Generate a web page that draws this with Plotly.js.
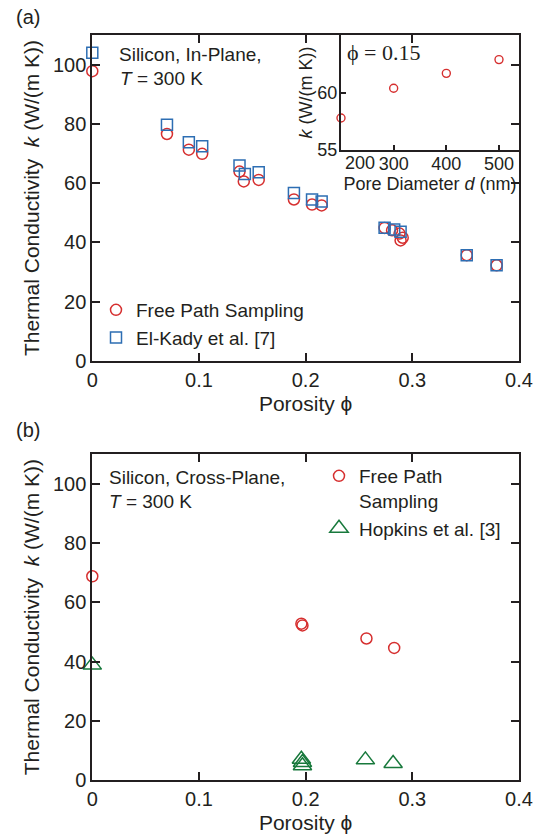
<!DOCTYPE html>
<html>
<head>
<meta charset="utf-8">
<script src="https://cdn.plot.ly/plotly-3.0.1.min.js"></script>
<style>html,body{margin:0;padding:0;background:#fff;}#chart{width:542px;height:834px;}</style>
</head>
<body>
<div id="chart"></div>
<script>
// ---- Panel (a): in-plane ----
const inPlanePhiFPS = [0, 0.07, 0.0905, 0.103, 0.138, 0.142, 0.156, 0.189, 0.206, 0.215, 0.274, 0.281, 0.288, 0.289, 0.291, 0.351, 0.379];
const inPlaneKFPS   = [97.8, 76.6, 71.3, 69.9, 63.9, 60.6, 61.1, 54.5, 52.8, 52.5, 44.9, 44.1, 43.0, 40.7, 41.6, 35.7, 32.3];
const inPlanePhiEK  = [0, 0.07, 0.0905, 0.103, 0.138, 0.143, 0.156, 0.189, 0.206, 0.215, 0.274, 0.283, 0.289, 0.351, 0.379];
const inPlaneKEK    = [104.0, 79.7, 73.8, 72.5, 66.0, 63.1, 63.7, 56.7, 54.5, 53.8, 45.0, 44.4, 43.6, 35.7, 32.3];
// ---- Inset: phi = 0.15 ----
const poreDiameter  = [200, 300, 400, 500];
const insetK        = [57.8, 60.4, 61.7, 62.9];
// ---- Panel (b): cross-plane ----
const crossPhiFPS   = [0, 0.196, 0.197, 0.257, 0.283];
const crossKFPS     = [68.8, 52.8, 52.2, 47.8, 44.6];
const crossPhiHop   = [0, 0.196, 0.197, 0.197, 0.256, 0.282];
const crossKHop     = [38.8, 7.0, 5.9, 4.8, 6.8, 5.6];
// ---- ticks ----
const mainXTicks     = [0, 0.1, 0.2, 0.3, 0.4];
const mainYTicks     = [0, 20, 40, 60, 80, 100];
const insetXTicks    = [200, 300, 400, 500];
const insetYTicks    = [55, 60];
// first inset tick label is drawn nudged right (as in the original) to clear the "55" label
const insetXTickText = insetXTicks.map((v, i) => i === 0 ? '' : String(v));

const RED = '#d62f2f', BLUE = '#2d6eb3', GREEN = '#18793c', INK = '#231f20';
const FONT = 'Liberation Sans, Arial, Helvetica, sans-serif';
const W = 542, H = 834;
const px = v => v / W, py = v => 1 - v / H;

const traces = [
  {x: inPlanePhiFPS, y: inPlaneKFPS, xaxis: 'x', yaxis: 'y', mode: 'markers', name: 'Free Path Sampling',
   marker: {symbol: 'circle-open', size: 11, color: RED, line: {width: 1.5, color: RED}}, cliponaxis: false, legend: 'legend'},
  {x: inPlanePhiEK, y: inPlaneKEK, xaxis: 'x', yaxis: 'y', mode: 'markers', name: 'El-Kady et al. [7]',
   marker: {symbol: 'square-open', size: 11, color: BLUE, line: {width: 1.5, color: BLUE}}, cliponaxis: false, legend: 'legend'},
  {x: poreDiameter, y: insetK, xaxis: 'x3', yaxis: 'y3', mode: 'markers', showlegend: false,
   marker: {symbol: 'circle-open', size: 8, color: RED, line: {width: 1.4, color: RED}}, cliponaxis: false},
  {x: crossPhiFPS, y: crossKFPS, xaxis: 'x2', yaxis: 'y2', mode: 'markers', name: 'Free Path<br>Sampling',
   marker: {symbol: 'circle-open', size: 11, color: RED, line: {width: 1.5, color: RED}}, cliponaxis: false, legend: 'legend2'},
  {x: crossPhiHop, y: crossKHop, xaxis: 'x2', yaxis: 'y2', mode: 'markers', name: 'Hopkins et al. [3]',
   marker: {symbol: 'triangle-up-open', size: 16, color: GREEN, line: {width: 1.5, color: GREEN}}, cliponaxis: false, legend: 'legend2'}
];

const axBase = {
  showline: true, linecolor: INK, linewidth: 2, mirror: 'ticks',
  ticks: 'inside', ticklen: 8, tickwidth: 2, tickcolor: INK,
  showgrid: false, zeroline: false, tickfont: {family: FONT, size: 20, color: INK}
};
const xDom = [px(92.3), px(519)];
const yTitle = 'Thermal Conductivity\u00a0\u00a0<i>k</i> (W/(m K))';
const xTitle = 'Porosity \u03d5';

const layout = {
  width: W, height: H,
  margin: {l: 0, r: 0, t: 0, b: 0},
  paper_bgcolor: '#fff', plot_bgcolor: 'rgba(0,0,0,0)',
  font: {family: FONT, color: INK},
  xaxis: Object.assign({}, axBase, {domain: xDom, anchor: 'y', range: [0, 0.4], tickvals: mainXTicks,
    title: {text: xTitle, font: {size: 21, color: INK}, standoff: 6}}),
  yaxis: Object.assign({}, axBase, {domain: [py(361), py(35)], anchor: 'x', range: [0, 110], tickvals: mainYTicks,
    title: {text: yTitle, font: {size: 21, color: INK}, standoff: 8}}),
  xaxis2: Object.assign({}, axBase, {domain: xDom, anchor: 'y2', range: [0, 0.4], tickvals: mainXTicks,
    title: {text: xTitle, font: {size: 21, color: INK}, standoff: 6}}),
  yaxis2: Object.assign({}, axBase, {domain: [py(780), py(454.3)], anchor: 'x2', range: [0, 110], tickvals: mainYTicks,
    title: {text: yTitle, font: {size: 21, color: INK}, standoff: 8}}),
  xaxis3: Object.assign({}, axBase, {domain: [px(341), px(519)], anchor: 'y3', range: [200, 538],
    tickmode: 'array', tickvals: insetXTicks, ticktext: insetXTickText,
    mirror: true, ticklen: 5, ticklabelstandoff: -4, tickfont: {family: FONT, size: 18, color: INK},
    title: {text: 'Pore Diameter <i>d</i> (nm)', font: {size: 18, color: INK}, standoff: 0}}),
  yaxis3: Object.assign({}, axBase, {domain: [py(150), py(35)], anchor: 'x3', range: [55, 65.05], tickvals: insetYTicks,
    mirror: true, ticklen: 5, ticklabelstandoff: -2, tickfont: {family: FONT, size: 18, color: INK},
    title: {text: '<i>k</i> (W/(m K))', font: {size: 18, color: INK}, standoff: 0}}),
  legend: {x: px(96), y: py(291), xanchor: 'left', yanchor: 'top', bgcolor: 'rgba(0,0,0,0)',
    font: {family: FONT, size: 19, color: INK}, tracegroupgap: 0, traceorder: 'normal'},
  legend2: {x: px(319), y: py(457), xanchor: 'left', yanchor: 'top', bgcolor: 'rgba(0,0,0,0)',
    font: {family: FONT, size: 19, color: INK}, tracegroupgap: 0, valign: 'top', traceorder: 'normal'},
  shapes: [
    {type: 'rect', xref: 'x3 domain', yref: 'y3 domain', x0: 0, x1: 1, y0: 0, y1: 1,
     fillcolor: '#fff', line: {width: 0}, layer: 'below'}
  ],
  annotations: [
    {text: String(insetXTicks[0]), x: insetXTicks[0], xref: 'x3', y: 0, yref: 'y3 domain', showarrow: false,
     xanchor: 'left', yanchor: 'top', xshift: 2, yshift: -1, font: {size: 18, color: INK}},
    {text: '(a)', x: px(28), y: py(17), xref: 'paper', yref: 'paper', showarrow: false, xanchor: 'center', yanchor: 'middle',
     font: {size: 20, color: INK}},
    {text: '(b)', x: px(28), y: py(430), xref: 'paper', yref: 'paper', showarrow: false, xanchor: 'center', yanchor: 'middle',
     font: {size: 20, color: INK}},
    {text: 'Silicon, In-Plane,', x: px(117), y: py(54), xref: 'paper', yref: 'paper', showarrow: false, xanchor: 'left', yanchor: 'middle',
     font: {size: 19, color: INK}},
    {text: '<i>T</i> = 300 K', x: px(118), y: py(79), xref: 'paper', yref: 'paper', showarrow: false, xanchor: 'left', yanchor: 'middle',
     font: {size: 19, color: INK}},
    {text: '\u03d5 = 0.15', x: px(345), y: py(52), xref: 'paper', yref: 'paper', showarrow: false, xanchor: 'left', yanchor: 'middle',
     font: {family: 'Liberation Serif, Times New Roman, serif', size: 22, color: INK}},
    {text: 'Silicon, Cross-Plane,', x: px(107), y: py(477), xref: 'paper', yref: 'paper', showarrow: false, xanchor: 'left', yanchor: 'middle',
     font: {size: 19, color: INK}},
    {text: '<i>T</i> = 300 K', x: px(107), y: py(501), xref: 'paper', yref: 'paper', showarrow: false, xanchor: 'left', yanchor: 'middle',
     font: {size: 19, color: INK}}
  ]
};

Plotly.newPlot('chart', traces, layout, {staticPlot: true, displayModeBar: false});
</script>
</body>
</html>
